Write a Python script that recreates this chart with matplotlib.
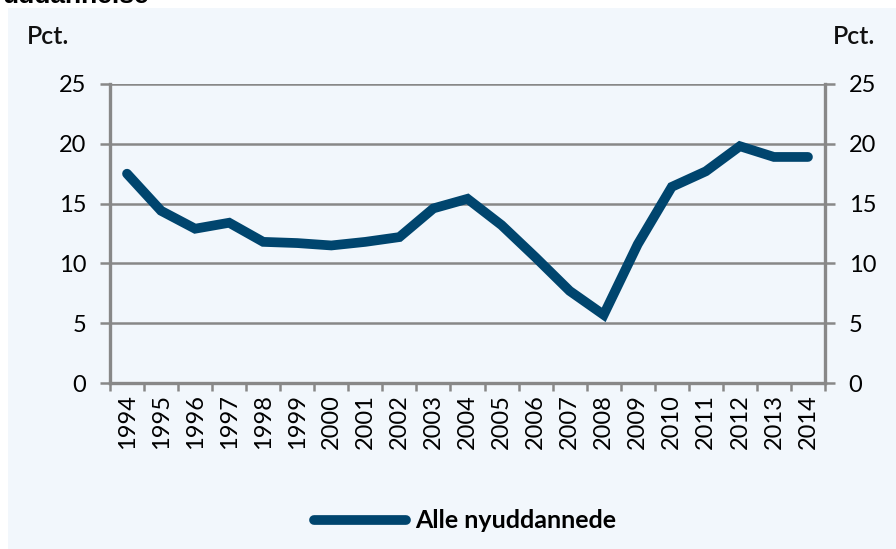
import matplotlib
matplotlib.use("Agg")
import matplotlib.pyplot as plt
from matplotlib.patches import Rectangle
import numpy as np

years = [str(y) for y in range(1994, 2015)]
values = [17.5, 14.4, 12.9, 13.4, 11.8, 11.7, 11.5, 11.8, 12.2, 14.6, 15.4,
          13.2, 10.5, 7.7, 5.7, 11.6, 16.4, 17.7, 19.8, 18.9, 18.9]
yticks = [0, 5, 10, 15, 20, 25]
series_name = "Alle nyuddannede"
unit = "Pct."

W, H = 896, 549
plt.rcParams['font.family'] = ['Lato', 'DejaVu Sans']
fig = plt.figure(figsize=(W / 100, H / 100), dpi=100)
fig.patch.set_facecolor("white")
panel_color = "#F2F7FC"
fig.patches.append(Rectangle((8 / W, 0), 1 - 8 / W, 1 - 8 / H, transform=fig.transFigure,
                             facecolor=panel_color, edgecolor="none", zorder=-5))

gray = "#888888"
line_color = "#00456E"

ax = fig.add_axes([110 / W, 1 - 383 / H, (825 - 110) / W, (383 - 84) / H])
ax.set_zorder(2)
ax.set_facecolor("none")
x = np.arange(len(years))
ax.plot(x, values, color=line_color, lw=7.0, solid_capstyle="round",
        solid_joinstyle="miter", zorder=3, label=series_name)

ax.set_xlim(-0.5, len(years) - 0.5)
ax.set_ylim(0, 25)
ax.set_yticks(yticks)
ax.set_yticklabels([str(t) for t in yticks])
ax.yaxis.grid(True, color=gray, lw=1.8)
ax.set_axisbelow(True)
ax.tick_params(axis="y", left=True, right=True, labelleft=True, labelright=True,
               length=7, width=1.8, color=gray, labelsize=17, pad=10)
ax.set_xticks(np.arange(len(years) + 1) - 0.5)
ax.set_xticklabels([])
ax.set_xticks(x, minor=True)
ax.set_xticklabels(years, minor=True, rotation=90)
ax.tick_params(axis="x", which="major", length=6, width=1.8, color=gray)
ax.tick_params(axis="x", which="minor", length=0, labelsize=17, pad=8)

for s in ["left", "right", "bottom"]:
    ax.spines[s].set_color(gray)
    ax.spines[s].set_linewidth(2.4)
ax.spines["top"].set_visible(False)

fig.text(27 / W, 1 - 36 / H, unit, ha="left", va="center", fontsize=18,
         fontweight="semibold", color="#111111")
fig.text(833 / W, 1 - 36 / H, unit, ha="left", va="center", fontsize=18,
         fontweight="semibold", color="#111111")

fig.text(2 / W, 1 - 3 / H, "uddannelse", ha="left", va="baseline", fontsize=19,
         fontweight="bold", family="Liberation Sans", color="black")

leg = fig.legend(loc="center", bbox_to_anchor=(465 / W, 1 - 521 / H), frameon=False,
                 handlelength=3.7, handletextpad=0.35,
                 prop={"size": 18, "weight": "bold"})

fig.savefig("out.png", dpi=100, facecolor=fig.get_facecolor())
